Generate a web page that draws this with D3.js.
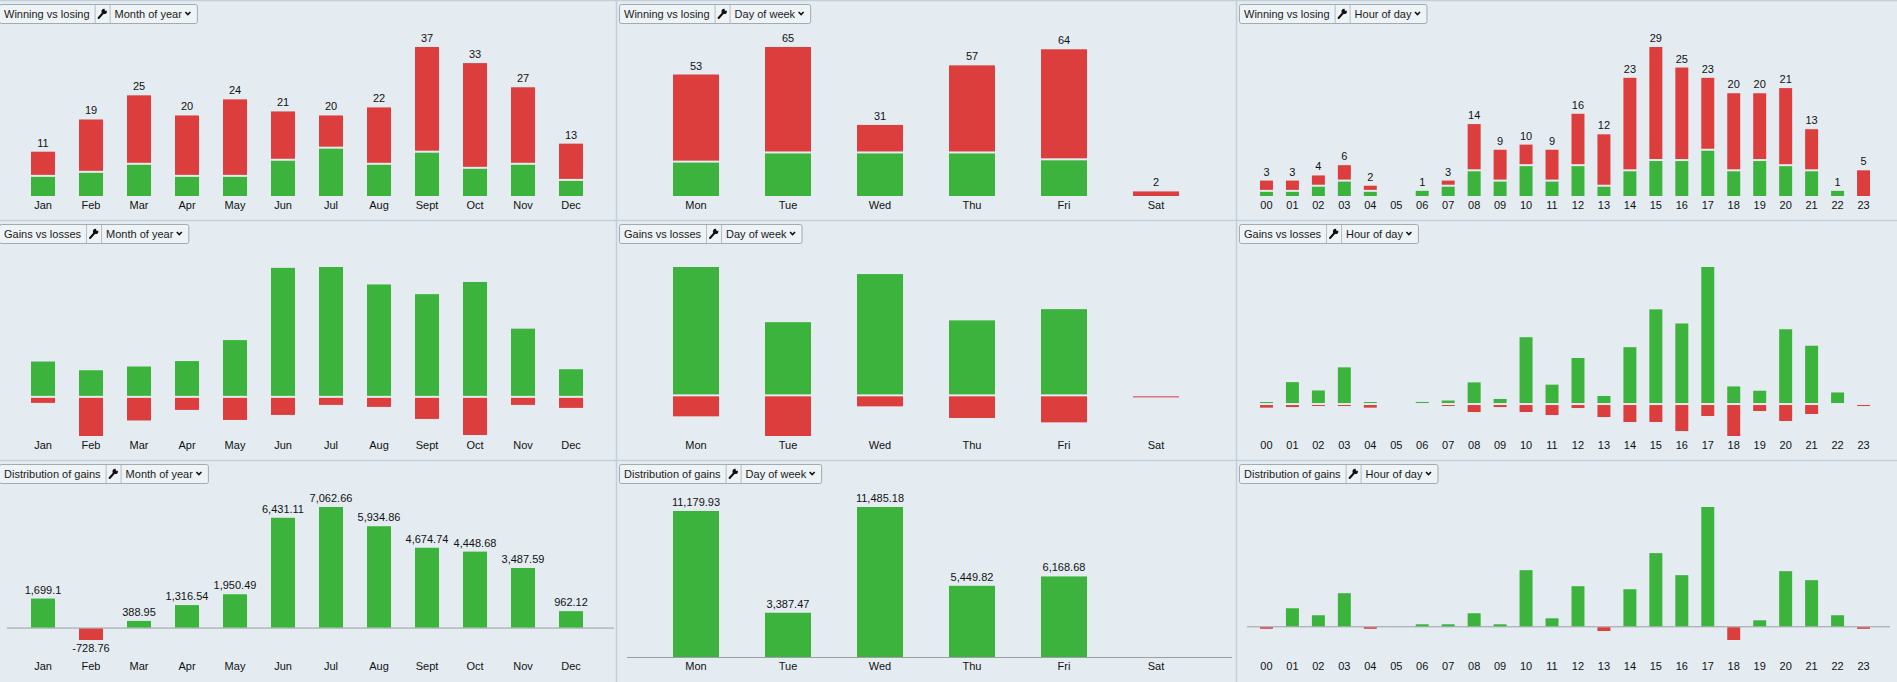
<!DOCTYPE html>
<html>
<head>
<meta charset="utf-8">
<script src="https://cdn.jsdelivr.net/npm/d3@7"></script>
<style>
  body { margin: 0; background: #e4ecf2; overflow: hidden; }
  svg text { font-family: "Liberation Sans", Arial, sans-serif; }
</style>
</head>
<body>
<svg id="chart" width="1897" height="682"></svg>
<script>
// categories
var monthLabels = ["Jan", "Feb", "Mar", "Apr", "May", "Jun", "Jul", "Aug", "Sept", "Oct", "Nov", "Dec"];
var dayLabels = ["Mon", "Tue", "Wed", "Thu", "Fri", "Sat"];
var hourLabels = ["00", "01", "02", "03", "04", "05", "06", "07", "08", "09", "10", "11",
                  "12", "13", "14", "15", "16", "17", "18", "19", "20", "21", "22", "23"];

// number of trades / winning trades
var monthTrades = [11, 19, 25, 20, 24, 21, 20, 22, 37, 33, 27, 13];
var monthWins = [5, 6, 8, 5, 5, 9, 12, 8, 11, 7, 8, 4];
var dayTrades = [53, 65, 31, 57, 64, 2];
var dayWins = [15, 19, 19, 19, 16, 0];
var hourTrades = [3, 3, 4, 6, 2, 0, 1, 3, 14, 9, 10, 9, 16, 12, 23, 29, 25, 23, 20, 20, 21, 13, 1, 5];
var hourWins = [1, 1, 2, 3, 1, 0, 1, 2, 5, 3, 6, 3, 6, 2, 5, 7, 7, 9, 5, 7, 6, 5, 1, 0];

// gains and losses (estimated from the bars)
var monthGains = [2048.1, 1541.24, 1758.95, 2073.54, 3289.49, 7479.11, 7528.66, 6516.86, 5954.74, 6660.68, 3953.59, 1602.12];
var monthLosses = [349, 2270, 1370, 757, 1339, 1048, 466, 582, 1280, 2212, 466, 640];
var dayGains = [13365.93, 7620.47, 12630.18, 7809.82, 8979.68, 0];
var dayLosses = [2186, 4233, 1145, 2360, 2811, 43];
var hourGains = [120, 1402, 868, 2347, 120, 0, 134, 224, 1385, 326, 4276, 1241,
                 2945, 517, 3638, 6058, 5154, 8768, 1126, 850, 4784, 3732, 740, 0];
var hourLosses = [232, 192, 128, 128, 232, 0, 0, 90, 511, 192, 511, 703,
                  256, 831, 1150, 1150, 1725, 767, 2045, 447, 1086, 639, 0, 112];

// net result (distribution of gains)
var monthNet = [1699.1, -728.76, 388.95, 1316.54, 1950.49, 6431.11, 7062.66, 5934.86, 4674.74, 4448.68, 3487.59, 962.12];
var dayNet = [11179.93, 3387.47, 11485.18, 5449.82, 6168.68, 0];
var hourNet = [-112, 1210, 740, 2219, -112, 0, 134, 134, 874, 134, 3765, 538,
               2689, -314, 2488, 4908, 3429, 8001, -919, 403, 3698, 3093, 740, -112];

var GREEN = "#3cb33c", RED = "#dc3d3d";
var fmt = d3.formatLocale({decimal: ".", thousands: ",", grouping: [3], currency: ["", ""], minus: "-"}).format(",.2~f");

var cols = [
    {dim: "Month of year", labels: monthLabels, trades: monthTrades, wins: monthWins,
     gains: monthGains, losses: monthLosses, net: monthNet, x0: -3, x1: 617, px1: 607, showNet: true},
    {dim: "Day of week", labels: dayLabels, trades: dayTrades, wins: dayWins,
     gains: dayGains, losses: dayLosses, net: dayNet, x0: 617, x1: 1237, px1: 1225, showNet: true},
    {dim: "Hour of day", labels: hourLabels, trades: hourTrades, wins: hourWins,
     gains: hourGains, losses: hourLosses, net: hourNet, x0: 1237, x1: 1897, px1: 1883, showNet: false}
];
var rows = [
    {title: "Winning vs losing", y0: 1, y1: 221, kind: "count"},
    {title: "Gains vs losses", y0: 221, y1: 461, kind: "gainloss"},
    {title: "Distribution of gains", y0: 461, y1: 682, kind: "net"}
];

var svg = d3.select("#chart");

// panel borders
svg.append("line").attr("x1", 0).attr("x2", 1897).attr("y1", 0.5).attr("y2", 0.5)
    .attr("stroke", "#c3d0da").attr("stroke-width", 1.5);
[220.5, 460.5].forEach(function (y) {
    svg.append("line").attr("x1", 0).attr("x2", 1897).attr("y1", y).attr("y2", y)
        .attr("stroke", "#c3d0da").attr("stroke-width", 1.5);
});
[616.5, 1236.5].forEach(function (x) {
    svg.append("line").attr("x1", x).attr("x2", x).attr("y1", 0).attr("y2", 682)
        .attr("stroke", "#c3d0da").attr("stroke-width", 1.5);
});

var drawWidget = function (x, y, title, dim) {
    var g = svg.append("g").attr("transform", "translate(" + x + "," + y + ")");
    var h = 19;
    var t1 = g.append("text").attr("x", 5).attr("y", 13.5)
        .attr("font-size", 11).attr("fill", "#1a1a1a").text(title);
    var w1 = t1.node().getComputedTextLength() + 10;
    var t2 = g.append("text").attr("x", w1 + 15 + 5).attr("y", 13.5)
        .attr("font-size", 11).attr("fill", "#1a1a1a").text(dim);
    var w2 = t2.node().getComputedTextLength() + 20;
    var total = w1 + 15 + w2;

    g.insert("rect", ":first-child")
        .attr("x", 0.5).attr("y", 0.5).attr("width", total).attr("height", h)
        .attr("rx", 2).attr("fill", "#eef3f6").attr("stroke", "#a2abb2");
    g.append("line").attr("x1", w1 + 0.5).attr("x2", w1 + 0.5).attr("y1", 1).attr("y2", h)
        .attr("stroke", "#b5bdc3");
    g.append("line").attr("x1", w1 + 15.5).attr("x2", w1 + 15.5).attr("y1", 1).attr("y2", h)
        .attr("stroke", "#b5bdc3");

    // wrench
    var bx = w1;
    g.append("line").attr("x1", bx + 4).attr("y1", 14).attr("x2", bx + 8.5).attr("y2", 9)
        .attr("stroke", "#111").attr("stroke-width", 2).attr("stroke-linecap", "round");
    g.append("circle").attr("cx", bx + 9.6).attr("cy", 7.4).attr("r", 2.7).attr("fill", "#111");
    g.append("circle").attr("cx", bx + 11.3).attr("cy", 5.6).attr("r", 1.3).attr("fill", "#eef3f6");

    // chevron
    g.append("path")
        .attr("d", "M" + (total - 11.5) + ",8 L" + (total - 9) + ",10.5 L" + (total - 6.5) + ",8")
        .attr("fill", "none").attr("stroke", "#111").attr("stroke-width", 1.6);
};

rows.forEach(function (row) {
    cols.forEach(function (col) {
        var g = svg.append("g");
        var x = d3.scaleBand().domain(col.labels).range([col.x0 + 10, col.px1]).padding(0.5);
        var top = row.y0 + 46;
        var bottom = row.y1 - 25;
        var y;

        if (row.kind === "count") {
            y = d3.scaleLinear().domain([0, d3.max(col.trades)]).range([bottom, top]);
            col.labels.forEach(function (lab, i) {
                var t = col.trades[i], w = col.wins[i];
                if (w > 0) {
                    var gap = t > w ? 1 : 0;
                    g.append("rect").attr("x", x(lab)).attr("width", x.bandwidth())
                        .attr("y", y(w) + gap).attr("height", y(0) - y(w) - gap)
                        .attr("fill", GREEN);
                }
                if (t > w) {
                    var gap2 = w > 0 ? 1 : 0;
                    g.append("rect").attr("x", x(lab)).attr("width", x.bandwidth())
                        .attr("y", y(t)).attr("height", y(w) - y(t) - gap2)
                        .attr("fill", RED);
                }
                if (t > 0) {
                    g.append("text").attr("x", x(lab) + x.bandwidth() / 2).attr("y", y(t) - 5)
                        .attr("text-anchor", "middle").attr("font-size", 11).attr("fill", "#111")
                        .text(t);
                }
            });
        } else if (row.kind === "gainloss") {
            y = d3.scaleLinear().domain([-d3.max(col.losses), d3.max(col.gains)]).range([bottom, top]);
            col.labels.forEach(function (lab, i) {
                var gn = col.gains[i], ls = col.losses[i];
                if (gn > 0) {
                    g.append("rect").attr("x", x(lab)).attr("width", x.bandwidth())
                        .attr("y", Math.min(y(gn), y(0) - 2)).attr("height", Math.max(1, y(0) - 1 - y(gn)))
                        .attr("fill", GREEN);
                }
                if (ls > 0) {
                    g.append("rect").attr("x", x(lab)).attr("width", x.bandwidth())
                        .attr("y", y(0) + 1).attr("height", Math.max(1, y(-ls) - y(0) - 1))
                        .attr("fill", RED);
                }
            });
        } else {
            var lo = d3.min(col.net);
            if (lo < 0) bottom = row.y1 - 42;
            y = d3.scaleLinear().domain([Math.min(0, lo), d3.max(col.net)]).range([bottom, top]);
            g.append("line").attr("x1", col.x0 + 10).attr("x2", col.px1 + 7)
                .attr("y1", y(0) + 0.5).attr("y2", y(0) + 0.5)
                .attr("stroke", "#9a9fa3").attr("stroke-width", 1);
            col.labels.forEach(function (lab, i) {
                var v = col.net[i];
                if (v === 0) return;
                g.append("rect").attr("x", x(lab)).attr("width", x.bandwidth())
                    .attr("y", v > 0 ? y(v) : y(0) + 1)
                    .attr("height", Math.max(1.5, Math.abs(y(v) - y(0)) - (v > 0 ? 0 : 1)))
                    .attr("fill", v > 0 ? GREEN : RED);
                if (col.showNet) {
                    g.append("text").attr("x", x(lab) + x.bandwidth() / 2)
                        .attr("y", v > 0 ? y(v) - 5 : y(v) + 12)
                        .attr("text-anchor", "middle").attr("font-size", 11).attr("fill", "#111")
                        .text(fmt(v));
                }
            });
        }

        // category labels
        g.selectAll("text.cat").data(col.labels).enter().append("text")
            .attr("class", "cat")
            .attr("x", function (d) { return x(d) + x.bandwidth() / 2; })
            .attr("y", row.y1 - 12)
            .attr("text-anchor", "middle").attr("font-size", 11).attr("fill", "#111")
            .text(function (d) { return d; });

        drawWidget(col.x0 + 2, row.y0 + 3, row.title, col.dim);
    });
});
</script>
</body>
</html>
